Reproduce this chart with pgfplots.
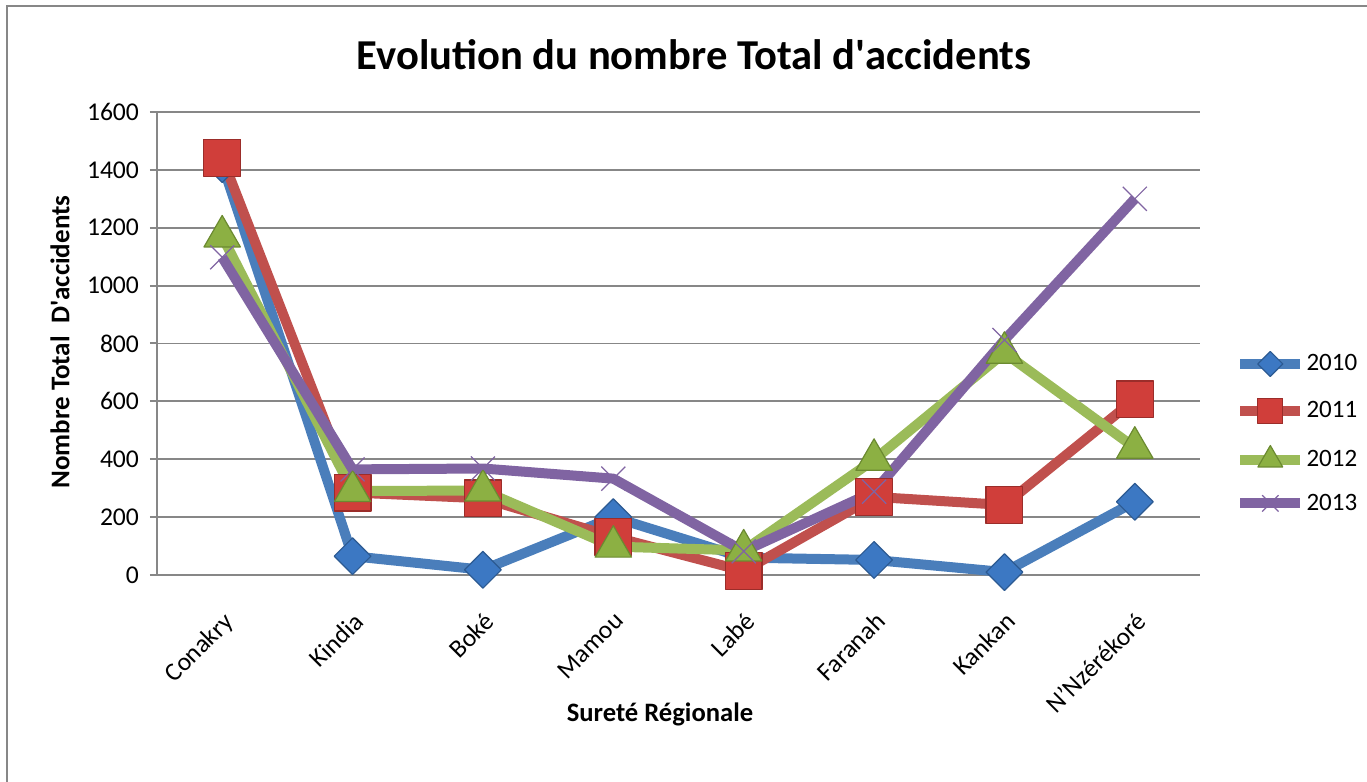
\documentclass[border=0pt]{standalone}
\usepackage{pgfplots}
\pgfplotsset{compat=1.18}
\usepackage{fontspec}
\setmainfont{Carlito}
\definecolor{cblue}{HTML}{4A7EBB}
\definecolor{cbluem}{HTML}{3C78C3}
\definecolor{cblued}{HTML}{2C5A92}
\definecolor{cred}{HTML}{C0504D}
\definecolor{credm}{HTML}{D03E3A}
\definecolor{credd}{HTML}{9B2D2A}
\definecolor{cgreen}{HTML}{9BBB59}
\definecolor{cgreenm}{HTML}{8CB043}
\definecolor{cgreend}{HTML}{6B8A30}
\definecolor{cpurple}{HTML}{8064A2}
\definecolor{cgrid}{HTML}{878787}
\begin{document}
\begin{tikzpicture}
\useasboundingbox (0pt,0pt) rectangle (683.5pt,391pt);
\draw[cgrid, line width=1.2pt] (3.5pt,-3pt) -- (3.5pt,388pt) -- (686pt,388pt);
\begin{axis}[
  at={(78.5pt,103.5pt)}, anchor=south west,
  scale only axis, width=521.5pt, height=231.5pt,
  xmin=-0.5, xmax=7.5, ymin=0, ymax=1600,
  ytick={0,200,...,1600},
  xtick={0,...,7},
  xticklabels={Conakry,Kindia,Boké,Mamou,Labé,Faranah,Kankan,N’Nzérékoré},
  xtick style={draw=none},
  extra x ticks={-0.5,0.5,...,7.5},
  extra x tick labels={},
  extra x tick style={tick style={draw=cgrid, line width=1pt}, major tick length=4.5pt},
  ytick style={draw=cgrid, line width=1pt},
  major tick length=3.5pt,
  tick align=outside,
  axis x line*=bottom, axis y line*=left,
  axis line style={cgrid, line width=1pt, -},
  ymajorgrids, grid style={cgrid, line width=0.9pt},
  tick label style={font=\fontsize{12.8}{14}\selectfont},
  /pgf/number format/assume math mode=true,
  /pgf/number format/set thousands separator={},
  yticklabel style={xshift=-2pt},
  xticklabel style={rotate=45, anchor=north east, inner sep=0pt, xshift=-10pt, yshift=-10pt},
  legend style={at={(rel axis cs:1.0335,0.307)}, anchor=west, draw=none, fill=none,
    font=\fontsize{12.5}{14}\selectfont, inner sep=0pt, row sep=11pt,
    nodes={inner sep=0.6pt},
    legend cell align=left},
  legend image code/.code={%
    \draw[#1, every mark/.append style={scale=0.68}, mark repeat=2, mark phase=2]
      plot coordinates {(0pt,0pt) (15pt,0pt) (30pt,0pt)};},
  clip=false,
]
\addplot[cblue, line width=5pt, line join=round, mark=square*, mark size=6.5pt,
  mark options={rotate=45, fill=cbluem, draw=cblued, line width=0.6pt}]
  coordinates {(0,1420) (1,65) (2,18) (3,200) (4,60) (5,52) (6,10) (7,253)};
\addplot[cred, line width=5pt, line join=round, mark=square*, mark size=9.2pt,
  mark options={fill=credm, draw=credd, line width=0.6pt}]
  coordinates {(0,1442) (1,285) (2,265) (3,132) (4,14) (5,270) (6,242) (7,607)};
\addplot[cgreen, line width=5pt, line join=round, mark=triangle*, mark size=10.5pt,
  mark options={fill=cgreenm, draw=cgreend, line width=0.6pt}]
  coordinates {(0,1170) (1,290) (2,292) (3,98) (4,85) (5,398) (6,768) (7,440)};
\addplot[cpurple, line width=5pt, line join=round, mark=x, mark size=8.5pt,
  mark options={draw=cpurple, line width=0.6pt}]
  coordinates {(0,1098) (1,365) (2,368) (3,333) (4,82) (5,288) (6,812) (7,1300)};
\legend{2010,2011,2012,2013}
\end{axis}
\node[font=\bfseries\fontsize{21.3}{24}\selectfont] at (347pt,363.5pt) {Evolution du nombre Total d\textquotesingle accidents};
\node[font=\bfseries\fontsize{13.5}{15}\selectfont, rotate=90] at (30pt,220pt) {Nombre Total\ \ D\textquotesingle accidents};
\node[font=\bfseries\fontsize{13.3}{15}\selectfont] at (330pt,34pt) {Sureté Régionale};
\end{tikzpicture}
\end{document}
